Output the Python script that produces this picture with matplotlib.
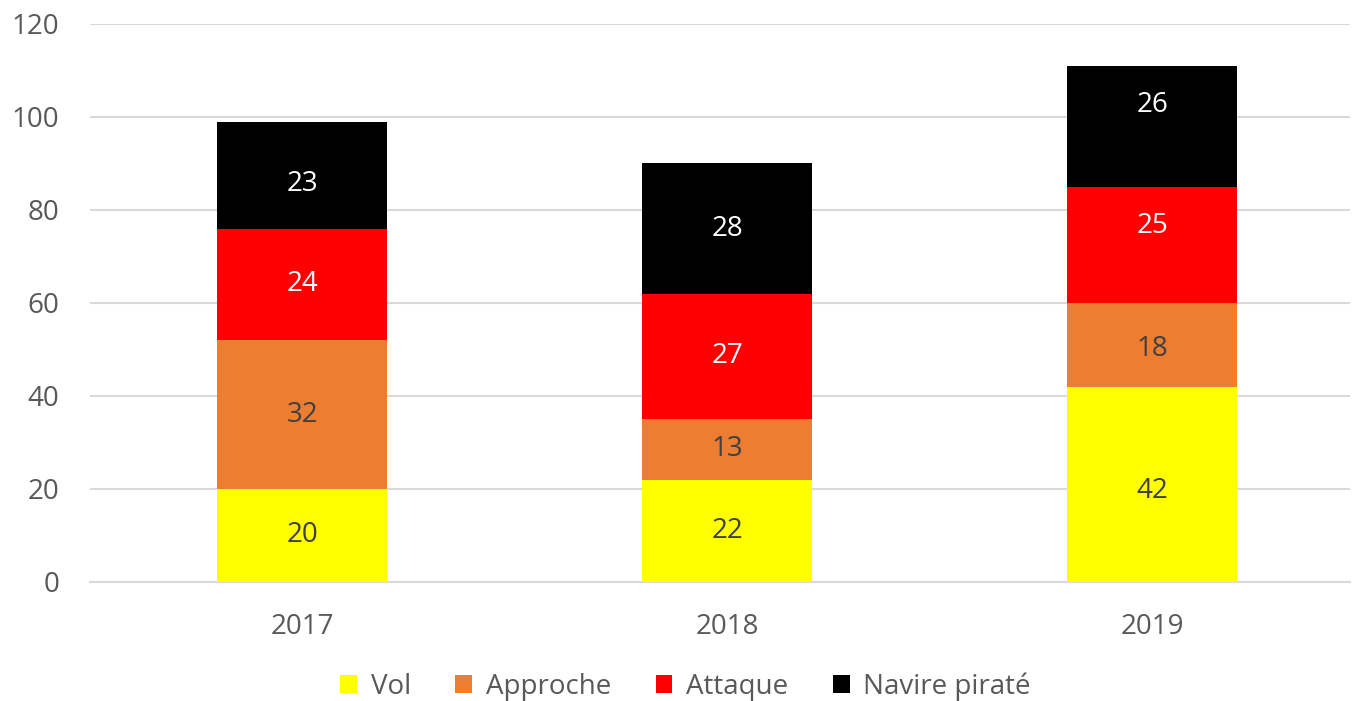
import numpy as np
import matplotlib.pyplot as plt

plt.rcParams['font.family'] = ['Open Sans', 'DejaVu Sans']

years = ['2017', '2018', '2019']
vol = [20, 22, 42]
approche = [32, 13, 18]
attaque = [24, 27, 25]
navire = [23, 28, 26]

series = [
    ('Vol', vol, '#FFFF00', '#404040'),
    ('Approche', approche, '#ED7D31', '#404040'),
    ('Attaque', attaque, '#FF0000', 'white'),
    ('Navire piraté', navire, '#000000', 'white'),
]

# a few labels were nudged by hand in the original
label_shift = {('Navire piraté', 0): -2, ('Navire piraté', 2): 4.5,
               ('Attaque', 2): 4, ('Approche', 2): -1, ('Vol', 2): -1.5}

fig = plt.figure(figsize=(13.63, 7.01), dpi=100)
ax = fig.add_axes([0.066, 0.1698, 0.9245, 0.796])

x = np.arange(len(years))
bottom = np.zeros(len(years))
for name, vals, color, tcol in series:
    vals = np.array(vals)
    ax.bar(x, vals, width=0.4, bottom=bottom, color=color, label=name, zorder=3)
    for i, (xi, b, v) in enumerate(zip(x, bottom, vals)):
        y = b + v / 2 + label_shift.get((name, i), 0)
        ax.text(xi, y, str(v), ha='center', va='center',
                fontsize=20, color=tcol, zorder=4)
    bottom += vals

ax.set_xlim(-0.5, 2.465)
ax.set_ylim(0, 120)
ax.set_yticks(range(0, 121, 20))
ax.set_xticks(x)
ax.set_xticklabels(years)
ax.yaxis.grid(True, color='#D9D9D9', linewidth=1.5, zorder=0)
for s in ['top', 'right', 'left']:
    ax.spines[s].set_visible(False)
ax.spines['bottom'].set_color('#D9D9D9')
ax.spines['bottom'].set_linewidth(1.5)
ax.tick_params(axis='both', length=0, labelsize=20, colors='#595959')
ax.tick_params(axis='x', pad=22)
ax.tick_params(axis='y', pad=22)

fig.legend(loc='center', bbox_to_anchor=(0.503, 0.021), ncol=4, frameon=False,
           fontsize=20, handlelength=0.6, handleheight=0.6, columnspacing=1.6,
           handletextpad=0.5, labelcolor='#595959')

fig.savefig('out.png', dpi=100)
